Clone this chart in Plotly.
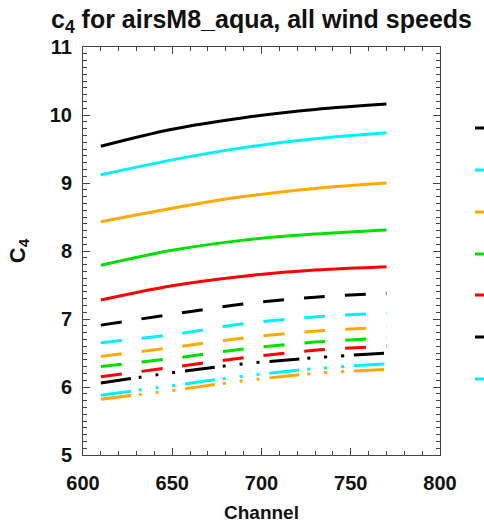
import plotly.graph_objects as go

# Channel positions where each curve is sampled
channels = [610, 650, 690, 730, 770]

# Coefficient c4 per wind-speed case
solid_black = [9.54, 9.79, 9.96, 10.08, 10.16]
solid_cyan = [9.12, 9.34, 9.52, 9.65, 9.74]
solid_orange = [8.43, 8.63, 8.80, 8.92, 9.00]
solid_green = [7.79, 8.01, 8.16, 8.25, 8.31]
solid_red = [7.28, 7.49, 7.63, 7.72, 7.77]

dash_black = [6.91, 7.07, 7.22, 7.32, 7.38]
dash_cyan = [6.65, 6.77, 6.93, 7.03, 7.09]
dash_orange = [6.45, 6.58, 6.72, 6.82, 6.88]
dash_green = [6.30, 6.42, 6.56, 6.66, 6.72]
dash_red = [6.15, 6.29, 6.43, 6.54, 6.60]

dd_black = [6.06, 6.21, 6.34, 6.43, 6.50]
dd_cyan = [5.88, 6.02, 6.16, 6.27, 6.34]
dd_orange = [5.82, 5.95, 6.09, 6.20, 6.26]

BLACK = "#000000"
CYAN = "#00F0FF"
ORANGE = "#FFAA00"
GREEN = "#00E000"
RED = "#FF0000"

DASH = "21px,20px"
DASHDOT = "30px,8px,3px,14px,3px,14px,3px,10px"

series = [
    ("ws1", solid_black, BLACK, "solid"),
    ("ws2", solid_cyan, CYAN, "solid"),
    ("ws3", solid_orange, ORANGE, "solid"),
    ("ws4", solid_green, GREEN, "solid"),
    ("ws5", solid_red, RED, "solid"),
    ("ws6", dash_black, BLACK, DASH),
    ("ws7", dash_cyan, CYAN, DASH),
    ("ws8", dash_orange, ORANGE, DASH),
    ("ws9", dash_green, GREEN, DASH),
    ("ws10", dash_red, RED, DASH),
    ("ws11", dd_black, BLACK, DASHDOT),
    ("ws12", dd_cyan, CYAN, DASHDOT),
    ("ws13", dd_orange, ORANGE, DASHDOT),
]

fig = go.Figure()
for name, vals, color, dash in series:
    fig.add_trace(go.Scatter(
        x=channels, y=vals, mode="lines", name=name,
        line=dict(color=color, width=3, dash=dash, shape="spline"),
        showlegend=False,
    ))

# Legend key segments on the right margin (text lies beyond the page edge)
key_colors = [BLACK, CYAN, ORANGE, GREEN, RED, BLACK, CYAN]
key_y_px = [128, 170, 212, 254, 295, 337, 379]
plot_top, plot_bottom, plot_left, plot_right = 47, 455, 83, 440
shapes = []
for c, ypx in zip(key_colors, key_y_px):
    yp = (plot_bottom - ypx) / (plot_bottom - plot_top)
    x0 = (475 - plot_left) / (plot_right - plot_left)
    x1 = (500 - plot_left) / (plot_right - plot_left)
    shapes.append(dict(type="line", xref="paper", yref="paper",
                       x0=x0, x1=x1, y0=yp, y1=yp,
                       line=dict(color=c, width=3)))

font = "Liberation Sans, Arial, Helvetica, sans-serif"
axis_common = dict(
    showgrid=False, zeroline=False, automargin=False,
    showline=True, linecolor="#444", linewidth=1, mirror="ticks",
    ticks="inside", ticklen=7, tickcolor="#444", tickwidth=1,
    tickfont=dict(family=font, size=20, color="#111", weight="bold"),
)

fig.update_layout(
    width=484, height=525,
    margin=dict(l=plot_left, r=484 - plot_right, t=plot_top, b=525 - plot_bottom,
                autoexpand=False),
    paper_bgcolor="white", plot_bgcolor="white",
    title=dict(text="c<sub>4</sub> for airsM8_aqua, all wind speeds",
               x=(plot_left + plot_right) / 2 / 484, xanchor="center",
               y=1 - 19 / 525, yanchor="middle",
               font=dict(family=font, size=25, color="#111", weight="bold")),
    xaxis=dict(range=[600, 800], dtick=50, tick0=600,
               minor=dict(dtick=10, ticklen=4, ticks="inside", tickcolor="#444"),
               title=dict(text="Channel", font=dict(family=font, size=19, color="#111", weight="bold"), standoff=12),
               ticklabelstandoff=10,
               **axis_common),
    yaxis=dict(range=[5, 11], dtick=1, tick0=5,
               minor=dict(dtick=0.1, ticklen=4, ticks="inside", tickcolor="#444"),
               title=dict(text="C<sub>4</sub>", font=dict(family=font, size=22, color="#111", weight="bold"), standoff=18),
               ticklabelstandoff=6,
               **axis_common),
    shapes=shapes,
)

fig.write_html("out.html")
